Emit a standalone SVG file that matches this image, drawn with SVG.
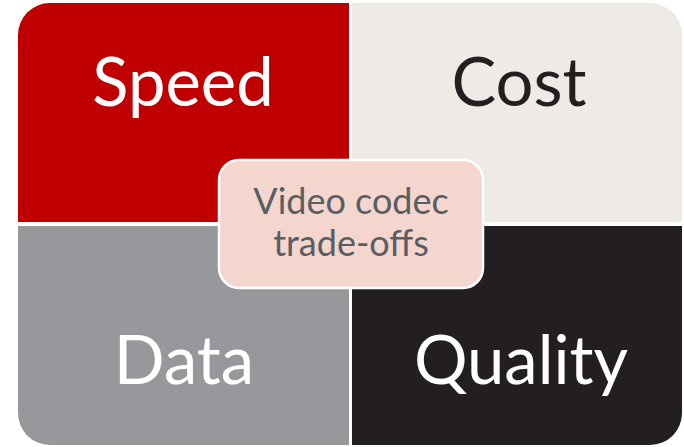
<svg xmlns="http://www.w3.org/2000/svg" width="684" height="447" viewBox="0 0 684 447">
<style>
.lbl{font-family:Lato,"Open Sans","Liberation Sans",sans-serif;font-size:67px;text-anchor:middle}
.ctr{font-family:Lato,"Open Sans","Liberation Sans",sans-serif;font-size:36px;text-anchor:middle;fill:#595E63}
</style>
<rect width="684" height="447" fill="#ffffff"/>
<g id="speed">
<path d="M18,35 A32,32 0 0 1 50,3 H349 V222 H18 Z" fill="#C00000"/>
<text class="lbl" x="183" y="106" fill="#ffffff">Speed</text>
</g>
<g id="cost">
<path d="M352,3 H650 A32,32 0 0 1 682,35 V222 H352 Z" fill="#EEEBE7"/>
<text class="lbl" x="519" y="106" fill="#231F20">Cost</text>
</g>
<g id="data">
<path d="M18,226 H349 V445 H50 A32,32 0 0 1 18,413 Z" fill="#97989C"/>
<text class="lbl" x="184" y="384" fill="#ffffff">Data</text>
</g>
<g id="quality">
<path d="M352,226 H682 V413 A32,32 0 0 1 650,445 H352 Z" fill="#231F20"/>
<text class="lbl" x="521" y="384" fill="#ffffff">Quality</text>
</g>
<g id="center">
<rect x="219" y="160" width="264" height="128" rx="20" ry="20" fill="#F4D6CF" stroke="#ffffff" stroke-width="2.5"/>
<text class="ctr" x="351" y="214">Video codec</text>
<text class="ctr" x="351" y="256">trade-offs</text>
</g>
<g id="connectors"></g>
</svg>
